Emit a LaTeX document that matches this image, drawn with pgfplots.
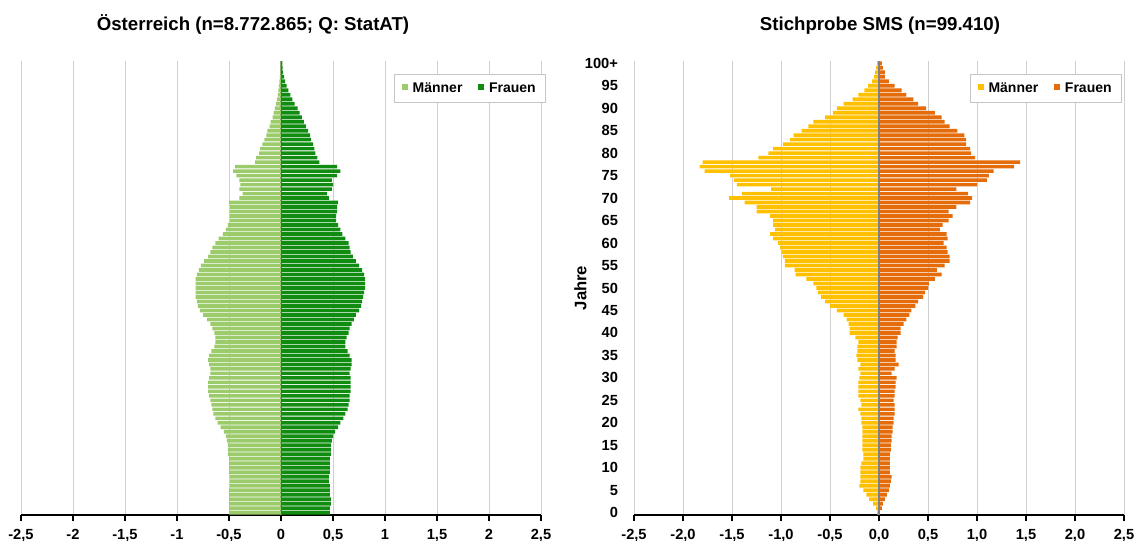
\documentclass[border=0pt]{standalone}
\usepackage{fontspec}
\setmainfont{Liberation Sans}
\usepackage{pgfplots}
\pgfplotsset{compat=1.18}
\usepackage{pgfplotstable}

\definecolor{atm}{HTML}{9CCB6C}
\definecolor{atw}{HTML}{108C10}
\definecolor{smm}{HTML}{FFC000}
\definecolor{smw}{HTML}{E46C0A}
\definecolor{gridgray}{HTML}{CFCFCF}

% Austria, share of population in % per age year
\pgfplotstableread{
age m w
0 0.50 0.47
1 0.50 0.47
2 0.50 0.48
3 0.50 0.48
4 0.50 0.47
5 0.50 0.47
6 0.49 0.47
7 0.49 0.46
8 0.49 0.46
9 0.50 0.47
10 0.50 0.47
11 0.50 0.47
12 0.50 0.47
13 0.51 0.48
14 0.51 0.48
15 0.51 0.48
16 0.52 0.49
17 0.53 0.50
18 0.55 0.52
19 0.58 0.55
20 0.61 0.57
21 0.63 0.60
22 0.65 0.62
23 0.66 0.64
24 0.67 0.65
25 0.68 0.66
26 0.69 0.66
27 0.70 0.67
28 0.70 0.67
29 0.70 0.67
30 0.69 0.67
31 0.68 0.66
32 0.68 0.67
33 0.69 0.68
34 0.70 0.68
35 0.69 0.66
36 0.67 0.64
37 0.64 0.62
38 0.63 0.62
39 0.63 0.63
40 0.64 0.65
41 0.66 0.66
42 0.68 0.68
43 0.71 0.70
44 0.75 0.72
45 0.78 0.75
46 0.80 0.77
47 0.81 0.78
48 0.82 0.79
49 0.82 0.80
50 0.82 0.81
51 0.82 0.81
52 0.82 0.81
53 0.81 0.80
54 0.79 0.78
55 0.77 0.75
56 0.74 0.72
57 0.70 0.69
58 0.68 0.67
59 0.66 0.66
60 0.63 0.65
61 0.60 0.62
62 0.56 0.59
63 0.53 0.57
64 0.51 0.55
65 0.49 0.53
66 0.49 0.53
67 0.49 0.54
68 0.49 0.54
69 0.50 0.55
70 0.40 0.46
71 0.37 0.44
72 0.40 0.49
73 0.39 0.50
74 0.40 0.49
75 0.43 0.54
76 0.46 0.57
77 0.44 0.54
78 0.25 0.37
79 0.24 0.35
80 0.21 0.33
81 0.20 0.32
82 0.18 0.31
83 0.16 0.29
84 0.14 0.28
85 0.13 0.26
86 0.11 0.24
87 0.10 0.22
88 0.08 0.20
89 0.07 0.18
90 0.06 0.16
91 0.05 0.13
92 0.04 0.11
93 0.03 0.09
94 0.025 0.07
95 0.02 0.055
96 0.015 0.04
97 0.01 0.03
98 0.007 0.02
99 0.005 0.015
100 0.005 0.012
}\austria

% SMS sample, share in % per age year
\pgfplotstableread{
age m w
0 0.02 0.01
1 0.03 0.03
2 0.06 0.04
3 0.10 0.06
4 0.13 0.08
5 0.16 0.10
6 0.20 0.11
7 0.19 0.12
8 0.19 0.13
9 0.19 0.11
10 0.19 0.11
11 0.18 0.11
12 0.16 0.11
13 0.16 0.11
14 0.17 0.12
15 0.17 0.12
16 0.17 0.13
17 0.17 0.13
18 0.17 0.14
19 0.17 0.14
20 0.18 0.15
21 0.18 0.15
22 0.19 0.16
23 0.21 0.16
24 0.18 0.16
25 0.19 0.15
26 0.21 0.16
27 0.21 0.16
28 0.21 0.17
29 0.21 0.17
30 0.20 0.18
31 0.19 0.13
32 0.21 0.16
33 0.19 0.20
34 0.22 0.17
35 0.23 0.17
36 0.22 0.16
37 0.22 0.18
38 0.21 0.18
39 0.24 0.19
40 0.30 0.22
41 0.30 0.22
42 0.31 0.25
43 0.33 0.28
44 0.36 0.31
45 0.43 0.33
46 0.50 0.37
47 0.55 0.40
48 0.59 0.45
49 0.62 0.47
50 0.64 0.50
51 0.67 0.51
52 0.74 0.57
53 0.85 0.64
54 0.86 0.59
55 0.96 0.67
56 0.96 0.72
57 0.98 0.72
58 0.99 0.70
59 1.01 0.69
60 1.03 0.66
61 1.08 0.70
62 1.11 0.69
63 1.06 0.62
64 1.08 0.65
65 1.08 0.71
66 1.11 0.75
67 1.25 0.71
68 1.25 0.79
69 1.37 0.93
70 1.53 0.95
71 1.40 0.91
72 1.10 0.79
73 1.45 1.00
74 1.48 1.10
75 1.52 1.12
76 1.78 1.17
77 1.83 1.38
78 1.80 1.44
79 1.23 0.98
80 1.13 0.94
81 1.08 0.93
82 0.98 0.89
83 0.91 0.89
84 0.87 0.87
85 0.79 0.80
86 0.72 0.72
87 0.67 0.67
88 0.55 0.64
89 0.47 0.57
90 0.43 0.48
91 0.36 0.40
92 0.27 0.35
93 0.21 0.28
94 0.15 0.23
95 0.11 0.16
96 0.07 0.10
97 0.05 0.06
98 0.04 0.06
99 0.03 0.04
100 0.02 0.03
}\sms

\pgfplotsset{
  pyramid/.style={
    scale only axis,
    height=340.5pt,
    xmin=-2.5, xmax=2.5,
    ymin=-0.5, ymax=100.5,
    xtick={-2.5,-2,...,2.5},
    axis x line*=bottom,
    axis y line*=left,
    y axis line style={draw=none},
    x axis line style={black, line width=1.6pt, -},
    xtick style={black, line width=1.2pt},
    ytick style={draw=none},
    major tick length=4.5pt,
    tick align=outside,
    xmajorgrids,
    grid style={gridgray, line width=0.6pt},
    xbar, bar shift=0pt, bar width=0.82,
    legend image code/.code={\fill[##1] (0pt,-1pt) rectangle (4.5pt,3.5pt);},
    legend columns=2,
    legend style={draw=gray!45, line width=0.6pt, inner xsep=5.5pt, inner ysep=4pt,
      font=\bfseries\fontsize{10.5}{12}\selectfont,
      /tikz/every odd column/.append style={column sep=1.5pt},
      /tikz/every even column/.append style={column sep=10pt}},
    tick label style={font=\bfseries\fontsize{11}{13}\selectfont},
    xticklabel style={yshift=-3pt},
    label style={font=\bfseries\fontsize{12.5}{14}\selectfont},
  }
}

\begin{document}
\begin{tikzpicture}
\useasboundingbox (0,0) rectangle (856.5pt,405.75pt);

\node[anchor=base, font=\bfseries\fontsize{14}{16}\selectfont] at (189.75pt,382.5pt) {Österreich (n=8.772.865; Q: StatAT)};
\node[anchor=base, font=\bfseries\fontsize{14}{16}\selectfont] at (660pt,382.5pt) {Stichprobe SMS (n=99.410)};

\begin{axis}[pyramid,
  at={(15.75pt,19.5pt)}, anchor=south west,
  width=390pt,
  ytick=\empty,
  xticklabels={{-2,5},{-2},{-1,5},{-1},{-0,5},{0},{0,5},{1},{1,5},{2},{2,5}},
  legend style={at={(1.01,0.971)}, anchor=north east},
]
\addplot[sharp plot, no marks, gray, line width=0.8pt, forget plot] coordinates {(0,-0.5) (0,100.5)};
\addplot[fill=atm, draw=none] table[x expr=-\thisrow{m}, y=age] {\austria};
\addplot[fill=atw, draw=none] table[x=w, y=age] {\austria};
\legend{Männer, Frauen}
\end{axis}

\begin{axis}[pyramid,
  at={(475.5pt,19.5pt)}, anchor=south west,
  width=367.5pt,
  ytick={0,5,...,100},
  yticklabels={0,5,10,15,20,25,30,35,40,45,50,55,60,65,70,75,80,85,90,95,100+},
  yticklabel style={xshift=-4pt},
  xticklabels={{-2,5},{-2,0},{-1,5},{-1,0},{-0,5},{0,0},{0,5},{1,0},{1,5},{2,0},{2,5}},
  ylabel={Jahre},
  ylabel style={yshift=-8pt},
  legend style={at={(0.996,0.971)}, anchor=north east},
]
\addplot[fill=smm, draw=none] table[x expr=-\thisrow{m}, y=age] {\sms};
\addplot[fill=smw, draw=none] table[x=w, y=age] {\sms};
\addplot[sharp plot, no marks, gray, line width=0.8pt, forget plot] coordinates {(0,-0.5) (0,100.5)};
\legend{Männer, Frauen}
\end{axis}
\end{tikzpicture}
\end{document}
